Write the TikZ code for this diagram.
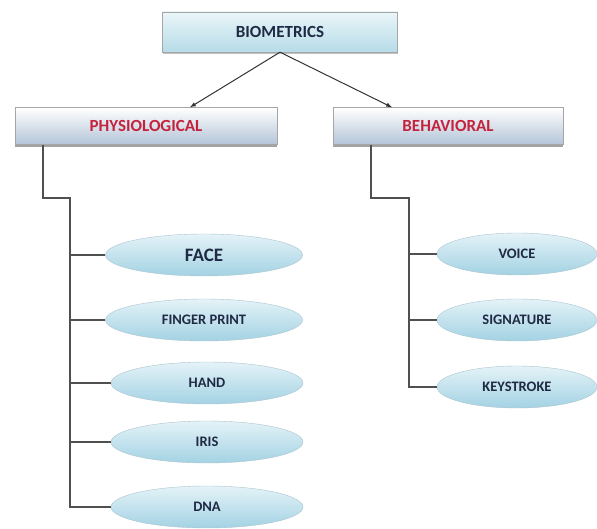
\documentclass[tikz,border=0pt]{standalone}
\usepackage{fontspec}
\setmainfont{Carlito}
\usepackage{tikz}
\usetikzlibrary{shapes.geometric, arrows, shadows, positioning, calc}

\definecolor{navy}{HTML}{1F2A44}
\definecolor{redtxt}{HTML}{C4233E}
\definecolor{linegray}{HTML}{505050}
\definecolor{leaftop}{HTML}{E4F3F8}
\definecolor{leafbot}{HTML}{A3D2E3}
\definecolor{boxbot}{HTML}{B4C4D8}
\definecolor{biotop}{HTML}{EAF5F9}
\definecolor{biobot}{HTML}{B6DCE8}

\tikzset{
  topbox/.style={rectangle, draw=gray!70, top color=biotop, bottom color=biobot,
    minimum width=235pt, minimum height=40pt, inner sep=0pt,
    font=\bfseries\fontsize{17}{19}\selectfont, text=navy,
    drop shadow={shadow xshift=0pt, shadow yshift=-2pt, fill=gray!60, opacity=0.8}},
  groupbox/.style={rectangle, draw=gray!70, top color=white, bottom color=boxbot,
    minimum height=37pt, inner sep=0pt,
    font=\bfseries\fontsize{17}{19}\selectfont, text=redtxt,
    drop shadow={shadow xshift=0pt, shadow yshift=-3pt, fill=gray!80, opacity=0.9}},
  leaf/.style={ellipse, draw=cyan!30!gray!60, top color=leaftop, bottom color=leafbot,
    minimum height=42pt, inner sep=0pt,
    font=\bfseries\fontsize{14.5}{16}\selectfont, text=navy},
  tree/.style={draw=linegray, line width=1.1pt},
}

\begin{document}
\begin{tikzpicture}[x=1pt, y=-1pt]
\useasboundingbox (0,0) rectangle (597,529);

\node (bio) [topbox] at (280,32) {BIOMETRICS};
\node (phys) [groupbox, minimum width=262pt] at (146,126) {PHYSIOLOGICAL};
\node (behav) [groupbox, minimum width=230pt] at (448,126) {BEHAVIORAL};

\draw [-latex, line width=1pt, black!80] (bio.south) -- ([xshift=44pt]phys.north);
\draw [-latex, line width=1pt, black!80] (bio.south) -- ([xshift=-56pt]behav.north);

% physiological side
\node (face)   [leaf, minimum width=197pt, font=\bfseries\fontsize{19}{21}\selectfont] at (204,255) {FACE};
\node (finger) [leaf, minimum width=197pt] at (204,320) {FINGER PRINT};
\node (hand)   [leaf, minimum width=192pt] at (207,383) {HAND};
\node (iris)   [leaf, minimum width=192pt] at (207,442) {IRIS};
\node (dna)    [leaf, minimum width=192pt] at (207,507) {DNA};

\coordinate (lbend) at (43,198);
\coordinate (ltrunk) at (70,198);
\draw [tree] (phys.south -| lbend) -- (lbend) -- (ltrunk) -- (ltrunk |- dna.west) -- (dna.west);
\foreach \n in {face, finger, hand, iris}
  \draw [tree] (ltrunk |- \n.west) -- (\n.west);

% behavioral side
\node (voice) [leaf, minimum width=160pt] at (517,254) {VOICE};
\node (sign)  [leaf, minimum width=160pt] at (517,320) {SIGNATURE};
\node (keys)  [leaf, minimum width=160pt] at (517,387) {KEYSTROKE};

\coordinate (rbend) at (371,198);
\coordinate (rtrunk) at (409,198);
\draw [tree] (behav.south -| rbend) -- (rbend) -- (rtrunk) -- (rtrunk |- keys.west) -- (keys.west);
\foreach \n in {voice, sign}
  \draw [tree] (rtrunk |- \n.west) -- (\n.west);
\end{tikzpicture}
\end{document}
